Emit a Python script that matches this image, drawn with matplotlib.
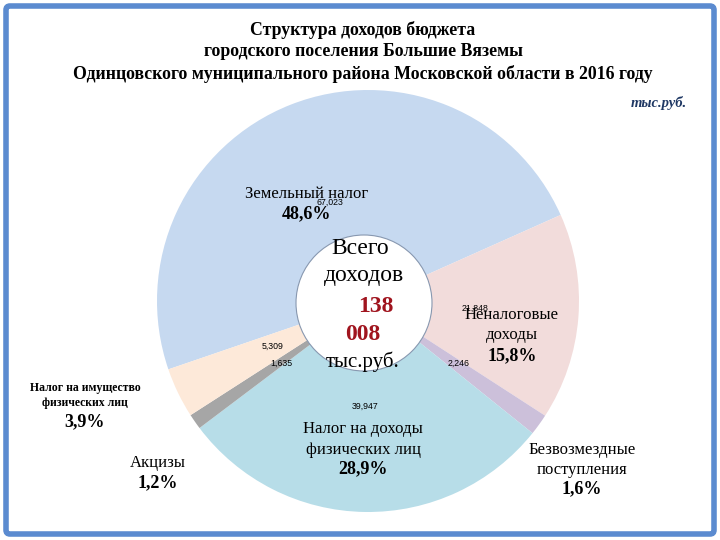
import matplotlib
matplotlib.use('Agg')
import matplotlib.pyplot as plt
from matplotlib.patches import Circle, FancyBboxPatch

# ── Data ──
names = [['Земельный налог'], ['Неналоговые', 'доходы'], ['Безвозмездные', 'поступления'],
         ['Налог на доходы', 'физических лиц'], ['Акцизы'], ['Налог на имущество', 'физических лиц']]
values = [67023, 21848, 2246, 39947, 1635, 5309]
percents = ['48,6%', '15,8%', '1,6%', '28,9%', '1,2%', '3,9%']
colors = ['#C6D9F0', '#F2DCDB', '#CCC0DA', '#B7DDE8', '#A6A6A6', '#FDE9D9']
total = sum(values)

W, H = 720, 540
fig = plt.figure(figsize=(7.2, 5.4), dpi=100)
ax = fig.add_axes([0, 0, 1, 1])

def py(y):
    # pixel row (from top) -> data y
    return H - y

cx, cy, r = 368, py(301), 211
ax.pie(values, colors=colors, startangle=198.9, counterclock=False,
       center=(cx, cy), radius=r, wedgeprops=dict(linewidth=0))
ax.set_xlim(0, W)
ax.set_ylim(0, H)
ax.set_aspect('equal')
ax.axis('off')

# inner white circle
ax.add_patch(Circle((364, py(303)), 68, facecolor='white', edgecolor='#8898B0',
                    linewidth=0.8, zorder=5))

# frame
ax.add_patch(FancyBboxPatch((6, 6), W - 12, H - 12, boxstyle='round,pad=0,rounding_size=4',
                            facecolor='none', edgecolor='#5B8BD0', linewidth=4, zorder=10))

serif = 'Liberation Serif'

# ── Title ──
title = ['Структура доходов бюджета',
         'городского поселения Большие Вяземы',
         'Одинцовского муниципального района Московской области в 2016 году']
for i, line in enumerate(title):
    ax.text(363, py(30 + 22 * i), line, ha='center', va='center', fontsize=12.8,
            fontweight='bold', family=serif, color='black')
ax.text(687, py(103), 'тыс.руб.', ha='right', va='center', fontsize=10.5,
        fontstyle='italic', fontweight='bold', family=serif, color='#1F3864')

# ── Centre text ──
ax.text(360, py(249), 'Всего', ha='center', va='center', fontsize=17, family=serif, zorder=6)
ax.text(364, py(276), 'доходов', ha='center', va='center', fontsize=17, family=serif, zorder=6)
tot = f'{total:,}'.split(',')
ax.text(376, py(306), tot[0], ha='center', va='center', fontsize=17, fontweight='bold',
        family=serif, color='#A0141E', zorder=6)
ax.text(363, py(335), tot[1], ha='center', va='center', fontsize=17, fontweight='bold',
        family=serif, color='#A0141E', zorder=6)
ax.text(363, py(362), 'тыс.руб.', ha='center', va='center', fontsize=15, family=serif, zorder=6)

# ── Category labels ──
label_x = [307, 512, 582, 363, 158, 85]
label_y = [[194, 214], [315, 335, 356], [450, 470, 489], [429, 450, 469], [463, 483], [388, 403, 422]]
value_pos = [(330, 202), (475, 308), (459, 363), (365, 406), (281, 363), (273, 346)]
for i, (nm, v) in enumerate(zip(names, values)):
    small = i == 5
    ys = label_y[i]
    for line, yy in zip(nm, ys[:-1]):
        ax.text(label_x[i], py(yy), line, ha='center', va='center',
                fontsize=8.5 if small else 12, family=serif,
                fontweight='bold' if small else 'normal', zorder=7)
    ax.text(label_x[i], py(ys[-1]), percents[i], ha='center', va='center', fontsize=13,
            fontweight='bold', family=serif, zorder=7)
    vx, vy = value_pos[i]
    ax.text(vx, py(vy), f'{v / 1000:.3f}'.replace('.', ','), ha='center', va='center',
            fontsize=6.3, family='Liberation Sans', zorder=8)

fig.savefig('out.png', dpi=100, facecolor='white')
